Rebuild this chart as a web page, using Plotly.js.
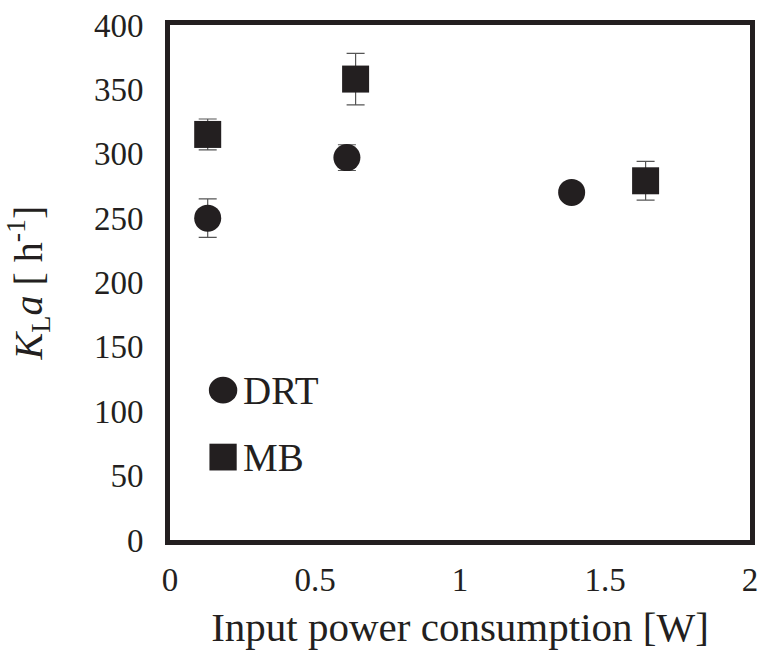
<!DOCTYPE html>
<html>
<head>
<meta charset="utf-8">
<script src="https://cdn.plot.ly/plotly-3.0.1.min.js"></script>
<style>body{margin:0;background:#fff}#chart{width:761px;height:650px}</style>
</head>
<body>
<div id="chart"></div>
<script>
const drtX = [0.13, 0.61, 1.385];
const drtY = [250, 297, 270];
const drtErr = [15, 10, 4];
const mbX = [0.13, 0.64, 1.64];
const mbY = [315, 358, 279];
const mbErr = [12, 20, 15];
const xTicks = [0, 0.5, 1, 1.5, 2];
const yTicks = [0, 50, 100, 150, 200, 250, 300, 350, 400];
const seriesNames = ["DRT", "MB"];

const ink = '#231f20';
const font = '"Liberation Serif", "Times New Roman", serif';

const traces = [
  {x: drtX, y: drtY, name: seriesNames[0], type: 'scatter', mode: 'markers',
   marker: {symbol: 'circle', size: 27, color: ink},
   error_y: {type: 'data', array: drtErr, visible: true, color: '#555', thickness: 1.2, width: 9}},
  {x: mbX, y: mbY, name: seriesNames[1], type: 'scatter', mode: 'markers',
   marker: {symbol: 'square', size: 27, color: ink},
   error_y: {type: 'data', array: mbErr, visible: true, color: '#555', thickness: 1.2, width: 9}}
];

const layout = {
  width: 761, height: 650,
  margin: {l: 170, r: 11, t: 25, b: 110},
  paper_bgcolor: '#fff', plot_bgcolor: '#fff',
  showlegend: false,
  font: {family: font, color: ink, size: 33},
  xaxis: {range: [0, 2], tickvals: xTicks, ticktext: xTicks.map(String), showgrid: false, zeroline: false,
          showline: true, mirror: true, linewidth: 5, linecolor: ink, ticks: '', ticklabelstandoff: 6,
          tickfont: {size: 33, family: font, color: ink},
          title: {text: 'Input power consumption [W]', font: {size: 41, family: font, color: ink}, standoff: 27}},
  yaxis: {range: [0, 400], tickvals: yTicks, ticktext: yTicks.map(String), showgrid: false, zeroline: false,
          showline: true, mirror: true, linewidth: 5, linecolor: ink, ticks: '', ticklabelstandoff: 15,
          tickfont: {size: 33, family: font, color: ink},
          title: {text: '<i>K</i><sub>L</sub><i>a</i> [ h<sup>-1</sup>]', font: {size: 40, family: font, color: ink}, standoff: 41}},
  shapes: [
    {type: 'circle', xref: 'paper', yref: 'paper', x0: 0.067, x1: 0.116, y0: 0.265, y1: 0.317, fillcolor: ink, line: {width: 0}},
    {type: 'rect', xref: 'paper', yref: 'paper', x0: 0.068, x1: 0.115, y0: 0.135, y1: 0.187, fillcolor: ink, line: {width: 0}}
  ],
  annotations: [
    {xref: 'paper', yref: 'paper', x: 0.123, y: 0.291, xanchor: 'left', yanchor: 'middle', text: seriesNames[0], showarrow: false, font: {size: 39, family: font, color: ink}},
    {xref: 'paper', yref: 'paper', x: 0.123, y: 0.161, xanchor: 'left', yanchor: 'middle', text: seriesNames[1], showarrow: false, font: {size: 39, family: font, color: ink}}
  ]
};

Plotly.newPlot('chart', traces, layout, {displayModeBar: false, staticPlot: true});
</script>
</body>
</html>
